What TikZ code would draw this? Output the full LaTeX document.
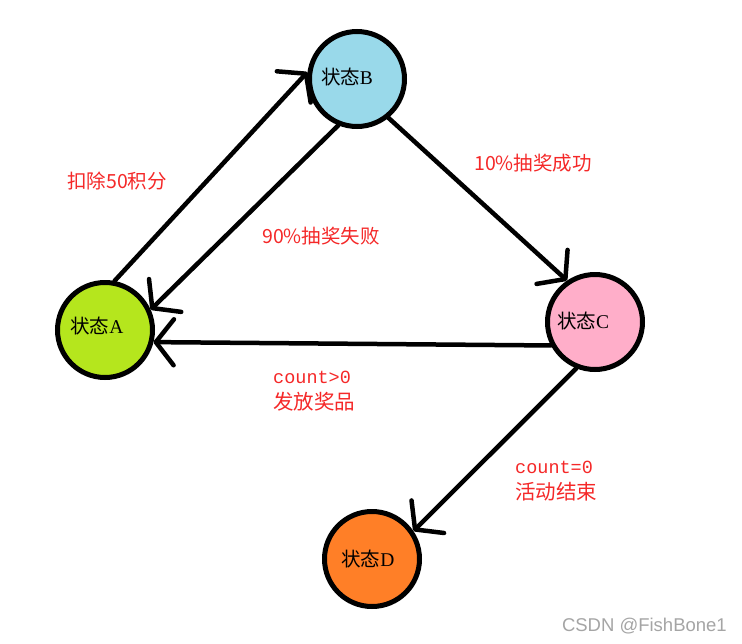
\documentclass[tikz,border=0pt]{standalone}
\usepackage{fontspec}
\setmainfont{Liberation Serif}
\newfontfamily\cjk{Noto Sans CJK SC}
\newfontfamily\monof{Liberation Mono}
\newfontfamily\wmfont{Liberation Sans}
\usetikzlibrary{arrows.meta}
\definecolor{stA}{HTML}{B5E61D}
\definecolor{stB}{HTML}{99D9EA}
\definecolor{stC}{HTML}{FFAEC9}
\definecolor{stD}{HTML}{FF7F27}
\definecolor{lblred}{RGB}{245,40,40}
\definecolor{wmgray}{RGB}{165,165,165}
\begin{document}
\begin{tikzpicture}[x=1pt,y=-1pt,
  state/.style={circle,draw=black,line width=5pt,minimum size=95pt,inner sep=0pt},
  stlabel/.style={font=\fontsize{19.5}{21}\selectfont,inner sep=0pt},
  conn/.style={line width=4.5pt,line cap=round,-{Straight Barb[length=18pt,width=46pt,round]}},
  lbl/.style={text=lblred,font=\cjk\fontsize{19.5}{22}\selectfont,inner sep=0pt},
  lblm/.style={text=lblred,font=\fontsize{18.5}{26}\selectfont,inner sep=0pt,align=left,anchor=north west}]
\useasboundingbox[fill=white] (0,0) rectangle (742,643);
\node[state,fill=stA,label={[stlabel,xshift=-8pt,yshift=4pt]center:{\cjk 状态}A}] (A) at (105,330) {};
\node[state,fill=stB,label={[stlabel,xshift=-10pt,yshift=2pt]center:{\cjk 状态}B}] (B) at (357,79) {};
\node[state,fill=stC,label={[stlabel,xshift=-12pt,yshift=1pt]center:{\cjk 状态}C}] (C) at (595,322) {};
\node[state,fill=stD,label={[stlabel,xshift=-4pt]center:{\cjk 状态}D}] (D) at (372,559) {};
\draw[conn] (A.79) -- (B.172);
\draw[conn] (B.248) -- (A.24);
\draw[conn] (C.208) -- (A.-14);
\draw[conn] (B.-51) -- (C.124);
\draw[conn] (C.-112) -- (D.34);
\node[lbl] (l1) at (117,181) {扣除50积分};
\node[lbl] (l2) at (321,236) {90\%抽奖失败};
\node[lbl] (l3) at (533,163) {10\%抽奖成功};
\node[lblm] (l4) at (273,371) {{\monof count>0}\\{\cjk\fontsize{20.5}{26}\selectfont 发放奖品}};
\node[lblm] (l5) at (515,461) {{\monof count=0}\\{\cjk\fontsize{20.5}{26}\selectfont 活动结束}};
\node[text=wmgray,font=\wmfont\fontsize{18.5}{20}\selectfont,inner sep=0pt,anchor=east] (wm) at (727,626) {CSDN @FishBone1};
\end{tikzpicture}
\end{document}
